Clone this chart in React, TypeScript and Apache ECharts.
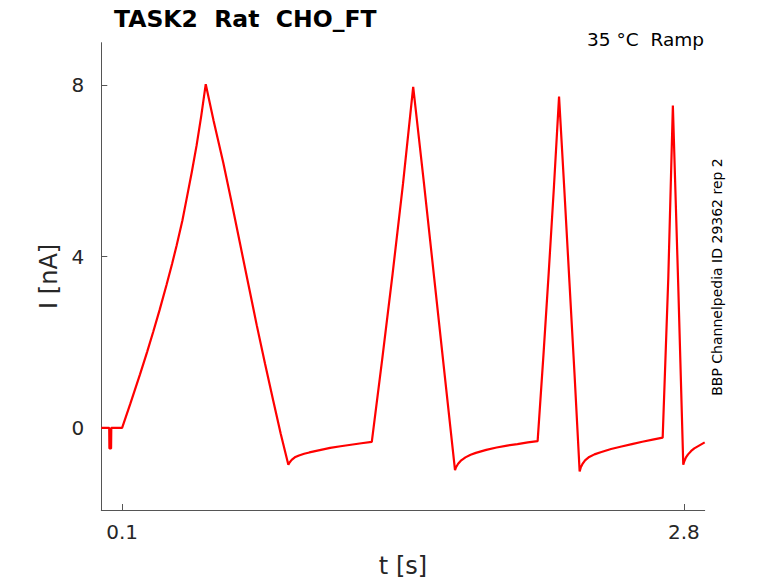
import React, { useEffect, useRef } from "react";
import * as echarts from "echarts";

// time [s]
const timeS: number[] = [
  0, 0.038, 0.039, 0.047, 0.048, 0.1,
  0.14, 0.186, 0.22, 0.25, 0.28, 0.314, 0.34, 0.362, 0.39, 0.41, 0.435, 0.458, 0.48, 0.502,
  0.54, 0.586, 0.625, 0.667, 0.707, 0.747, 0.787, 0.827, 0.862, 0.899,
  0.905, 0.915, 0.93, 0.95, 0.975, 1.0, 1.05, 1.1, 1.15, 1.2, 1.25, 1.3,
  1.35, 1.4, 1.45, 1.499, 1.55, 1.6, 1.65, 1.7,
  1.705, 1.715, 1.73, 1.75, 1.775, 1.8, 1.85, 1.9, 1.95, 2.0, 2.05, 2.097,
  2.125, 2.15, 2.175, 2.2, 2.225, 2.25, 2.275, 2.299,
  2.304, 2.312, 2.325, 2.345, 2.37, 2.4, 2.45, 2.5, 2.55, 2.6, 2.65, 2.698,
  2.725, 2.747, 2.773, 2.797,
  2.802, 2.81, 2.82, 2.835, 2.85, 2.875, 2.9,
];
// current [nA]
const currentNA: number[] = [
  0, 0, -0.48, -0.48, 0, 0,
  0.57, 1.25, 1.77, 2.25, 2.75, 3.35, 3.83, 4.26, 4.85, 5.35, 5.98, 6.6, 7.28, 8.03,
  7.17, 6.2, 5.3, 4.3, 3.35, 2.4, 1.5, 0.62, -0.13, -0.86,
  -0.81, -0.75, -0.69, -0.645, -0.605, -0.575, -0.52, -0.47, -0.43, -0.395, -0.36, -0.33,
  1.6, 3.6, 5.7, 7.97, 5.75, 3.5, 1.25, -0.99,
  -0.92, -0.84, -0.76, -0.69, -0.63, -0.585, -0.515, -0.46, -0.415, -0.38, -0.34, -0.31,
  1.7, 3.6, 5.6, 7.74, 5.6, 3.4, 1.2, -1.02,
  -0.93, -0.85, -0.76, -0.68, -0.62, -0.57, -0.495, -0.435, -0.38, -0.325, -0.275, -0.23,
  3.5, 7.53, 3.3, -0.86,
  -0.78, -0.69, -0.62, -0.54, -0.48, -0.41, -0.34,
];
const xTicks: number[] = [0.1, 2.8];
const yTicks: number[] = [0, 4, 8];

const titleText = "TASK2  Rat  CHO_FT";
const conditionText = "35 °C  Ramp";
const sideText = "BBP Channelpedia ID 29362 rep 2";

const FONT = "DejaVu Sans";
const AXIS_COLOR = "#555555";
const TEXT_COLOR = "#262626";

export default function App() {
  const ref = useRef<HTMLDivElement>(null);
  useEffect(() => {
    if (!ref.current) return;
    const chart = echarts.init(ref.current, null, { renderer: "svg" });
    const data = timeS.map((t, i) => [t, currentNA[i]]);
    chart.setOption({
      animation: false,
      backgroundColor: "#ffffff",
      textStyle: { fontFamily: FONT },
      title: {
        text: titleText,
        left: 109,
        top: 2,
        textStyle: { fontFamily: FONT, fontWeight: "bold", fontSize: 23.5, color: "#000000" },
      },
      grid: { left: 101.3, right: 73.3, top: 42.7, bottom: 70.7 },
      xAxis: {
        type: "value",
        min: 0,
        max: 2.9,
        name: "t [s]",
        nameLocation: "middle",
        nameGap: 44,
        nameTextStyle: { fontFamily: FONT, fontSize: 24, color: TEXT_COLOR },
        axisLine: { show: true, onZero: false, lineStyle: { color: AXIS_COLOR, width: 1 } },
        axisTick: { show: true, inside: true, length: 6, customValues: xTicks, lineStyle: { color: AXIS_COLOR } },
        axisLabel: { customValues: xTicks, fontFamily: FONT, fontSize: 20, color: TEXT_COLOR, margin: 12 },
        splitLine: { show: false },
      },
      yAxis: {
        type: "value",
        min: -1.92,
        max: 9,
        name: "I [nA]",
        nameLocation: "middle",
        nameGap: 36,
        nameRotate: 90,
        nameTextStyle: { fontFamily: FONT, fontSize: 24, color: TEXT_COLOR },
        axisLine: { show: true, onZero: false, lineStyle: { color: AXIS_COLOR, width: 1 } },
        axisTick: { show: true, inside: true, length: 6, customValues: yTicks, lineStyle: { color: AXIS_COLOR } },
        axisLabel: { customValues: yTicks, fontFamily: FONT, fontSize: 20, color: TEXT_COLOR, margin: 17 },
        splitLine: { show: false },
      },
      graphic: [
        {
          type: "text",
          right: 74,
          top: 30,
          style: { text: conditionText, fontFamily: FONT, fontSize: 18.5, fill: "#000000" },
        },
        {
          type: "text",
          x: 717,
          y: 277,
          rotation: Math.PI / 2,
          style: {
            text: sideText,
            fontFamily: FONT,
            fontSize: 14,
            fill: "#000000",
            align: "center",
            verticalAlign: "middle",
          },
        },
      ],
      series: [
        {
          type: "line",
          data,
          showSymbol: false,
          symbol: "none",
          lineStyle: { color: "#ff0000", width: 2.2 },
          z: 3,
        },
      ],
    });
    return () => chart.dispose();
  }, []);
  return (
    <div
      ref={ref}
      style={{ position: "absolute", left: 0, top: 0, width: 778, height: 583 }}
    />
  );
}
